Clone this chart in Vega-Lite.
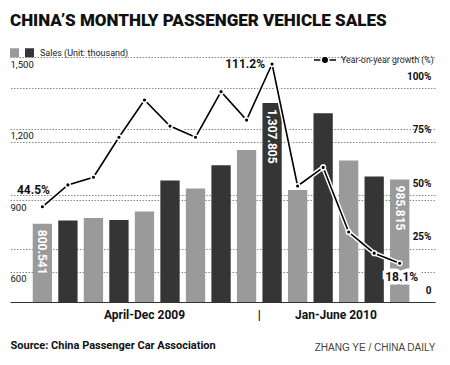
{
  "$schema": "https://vega.github.io/schema/vega-lite/v6.json",
  "width": 425,
  "height": 252,
  "autosize": {"type": "none"},
  "padding": {"left": 10, "top": 50, "right": 15, "bottom": 63},
  "background": "white",
  "title": {
    "text": "CHINA’S MONTHLY PASSENGER VEHICLE SALES",
    "anchor": "start",
    "frame": "group",
    "font": "Roboto",
    "fontSize": 17,
    "fontWeight": 900,
    "color": "#111111",
    "baseline": "alphabetic",
    "offset": 5
  },
  "config": {
    "view": {"stroke": null},
    "font": "Roboto"
  },
  "data": {
    "values": [
      {"month": "Apr 2009", "sales": 800.541, "growth": 44.5},
      {"month": "May 2009", "sales": 813.7, "growth": 54.7},
      {"month": "Jun 2009", "sales": 825.0, "growth": 58.3},
      {"month": "Jul 2009", "sales": 816.6, "growth": 77.0},
      {"month": "Aug 2009", "sales": 851.5, "growth": 94.4},
      {"month": "Sep 2009", "sales": 982.5, "growth": 82.2},
      {"month": "Oct 2009", "sales": 948.1, "growth": 77.0},
      {"month": "Nov 2009", "sales": 1046.3, "growth": 98.3},
      {"month": "Dec 2009", "sales": 1110.6, "growth": 85.0},
      {"month": "Jan 2010", "sales": 1307.805, "growth": 111.2},
      {"month": "Feb 2010", "sales": 942.6, "growth": 54.2},
      {"month": "Mar 2010", "sales": 1264.7, "growth": 62.9},
      {"month": "Apr 2010", "sales": 1065.7, "growth": 32.7},
      {"month": "May 2010", "sales": 998.5, "growth": 22.8},
      {"month": "Jun 2010", "sales": 985.815, "growth": 18.1}
    ]
  },
  "encoding": {
    "x": {
      "field": "month",
      "type": "nominal",
      "sort": null,
      "scale": {
        "domain": ["Apr 2009", "May 2009", "Jun 2009", "Jul 2009", "Aug 2009", "Sep 2009", "Oct 2009", "Nov 2009", "Dec 2009", "Jan 2010", "Feb 2010", "Mar 2010", "Apr 2010", "May 2010", "Jun 2010"],
        "paddingInner": 0.244,
        "paddingOuter": 0.948,
        "align": 0.47
      },
      "axis": {
        "title": "Source: China Passenger Car Association",
        "titleAnchor": "start",
        "titleAlign": "left",
        "titleX": 0,
        "titleY": 46,
        "titleBaseline": "alphabetic",
        "titleFontSize": 11,
        "titleFontWeight": "bold",
        "titleColor": "#111111",
        "labelExpr": "datum.value == 'Aug 2009' ? 'April-Dec 2009' : datum.value == 'Dec 2009' ? '|' : datum.value == 'Mar 2010' ? 'Jan-June 2010' : ''",
        "labelOffset": {"condition": {"test": "datum.value == 'Dec 2009' || datum.value == 'Mar 2010'", "value": 12.76}, "value": 0},
        "labelAngle": 0,
        "labelFontSize": 12,
        "labelFontWeight": "bold",
        "labelColor": "#111111",
        "labelPadding": 7,
        "labelBaseline": "top",
        "labelOverlap": false,
        "ticks": false,
        "tickSize": 0,
        "grid": false,
        "domainColor": "#333333",
        "domainWidth": 1
      }
    }
  },
  "layer": [
    {
      "encoding": {
        "y": {
          "field": "sales",
          "type": "quantitative",
          "scale": {"domain": [472, 1530], "zero": false, "nice": false},
          "axis": {
            "orient": "left",
            "title": null,
            "values": [600, 900, 1200, 1500],
            "format": ",.0f",
            "domain": false,
            "ticks": false,
            "tickSize": 0,
            "labelAlign": "left",
            "labelBaseline": "top",
            "labelPadding": 0,
            "labelOffset": 2,
            "labelFontSize": 9.5,
            "labelColor": "#111111",
            "labelFlush": false,
            "labelOverlap": false,
            "grid": true,
            "gridDash": [1.5, 1.5],
            "gridColor": "#888888",
            "gridWidth": 1
          }
        }
      },
      "layer": [
        {
          "mark": {"type": "bar", "clip": true},
          "encoding": {
            "color": {
              "field": "month",
              "type": "nominal",
              "scale": {
                "domain": ["Apr 2009", "May 2009", "Jun 2009", "Jul 2009", "Aug 2009", "Sep 2009", "Oct 2009", "Nov 2009", "Dec 2009", "Jan 2010", "Feb 2010", "Mar 2010", "Apr 2010", "May 2010", "Jun 2010"],
                "range": ["#9a9a9a", "#353535", "#9a9a9a", "#353535", "#9a9a9a", "#353535", "#9a9a9a", "#353535", "#9a9a9a", "#353535", "#9a9a9a", "#353535", "#9a9a9a", "#353535", "#9a9a9a"]
              },
              "legend": {
                "orient": "none",
                "legendX": 0,
                "legendY": -2,
                "direction": "horizontal",
                "title": null,
                "values": ["Apr 2009", "May 2009"],
                "labelExpr": "datum.value == 'May 2009' ? 'Sales (Unit: thousand)' : ''",
                "symbolType": "square",
                "symbolSize": 81,
                "symbolStrokeWidth": 0,
                "labelOffset": 6,
                "columnPadding": -2,
                "labelFontSize": 9,
                "labelColor": "#222222",
                "padding": 0
              }
            }
          }
        },
        {
          "transform": [{"filter": {"field": "month", "oneOf": ["Apr 2009", "Jan 2010", "Jun 2010"]}}],
          "mark": {"type": "text", "angle": 90, "align": "left", "baseline": "middle", "dx": 6, "color": "white", "fontWeight": "bold", "fontSize": 12},
          "encoding": {
            "text": {"field": "sales", "type": "quantitative", "format": ",.3f"}
          }
        }
      ]
    },
    {
      "encoding": {
        "y": {
          "field": "growth",
          "type": "quantitative",
          "scale": {"domain": [0, 117.76], "zero": true, "nice": false},
          "axis": {
            "orient": "right",
            "values": [0, 25, 50, 75, 100],
            "labelExpr": "datum.value == 0 ? '0' : datum.value + '%'",
            "title": "ZHANG YE / CHINA DAILY",
            "titleAngle": 0,
            "titleAlign": "right",
            "titleX": 0,
            "titleY": 300,
            "titleBaseline": "alphabetic",
            "titleFont": "Liberation Sans",
            "titleFontSize": 10,
            "titleFontWeight": "normal",
            "titleColor": "#444444",
            "domain": false,
            "ticks": false,
            "tickSize": 0,
            "labelAlign": "right",
            "labelBaseline": "alphabetic",
            "labelPadding": -4,
            "labelOffset": -9,
            "labelFontSize": 10,
            "labelFontWeight": "bold",
            "labelColor": "#111111",
            "labelFlush": false,
            "labelOverlap": false,
            "grid": true,
            "gridDash": [1.5, 1.5],
            "gridColor": "#888888",
            "gridWidth": 1
          }
        }
      },
      "layer": [
        {
          "mark": {"type": "line", "color": "white", "strokeWidth": 4.5}
        },
        {
          "mark": {"type": "line", "strokeWidth": 1.6},
          "encoding": {
            "stroke": {
              "datum": "Year-on-year growth (%)",
              "scale": {"range": ["#000000"]},
              "legend": {
                "orient": "none",
                "legendX": 303,
                "legendY": -2,
                "title": null,
                "symbolType": "M-1,0H-0.42M0.42,0H1M-0.2,0A0.2,0.2,0,1,1,0.2,0A0.2,0.2,0,1,1,-0.2,0Z",
                "symbolSize": 484,
                "symbolStrokeWidth": 1.6,
                "symbolStrokeColor": "#000000",
                "symbolFillColor": "#000000",
                "labelOffset": 4,
                "labelFontSize": 8.8,
                "labelColor": "#222222",
                "padding": 0
              }
            }
          }
        },
        {
          "mark": {"type": "circle", "color": "#000000", "opacity": 1, "size": 22, "stroke": "white", "strokeWidth": 1.5}
        },
        {
          "transform": [{"filter": {"field": "month", "equal": "Apr 2009"}}],
          "mark": {"type": "text", "align": "center", "baseline": "middle", "dx": -9, "dy": -17, "fontSize": 12, "fontWeight": "bold", "color": "#111111", "text": {"expr": "format(datum.growth, '.1f') + '%'"}}
        },
        {
          "transform": [{"filter": {"field": "month", "equal": "Jan 2010"}}],
          "mark": {"type": "text", "align": "right", "baseline": "middle", "dx": -7, "dy": 0, "fontSize": 12, "fontWeight": "bold", "color": "#111111", "text": {"expr": "format(datum.growth, '.1f') + '%'"}}
        },
        {
          "transform": [{"filter": {"field": "month", "equal": "Jun 2010"}}],
          "mark": {"type": "text", "align": "center", "baseline": "middle", "dx": 2, "dy": 14, "fontSize": 12, "fontWeight": "bold", "color": "white", "stroke": "white", "strokeWidth": 7, "text": {"expr": "format(datum.growth, '.1f') + '%'"}}
        },
        {
          "transform": [{"filter": {"field": "month", "equal": "Jun 2010"}}],
          "mark": {"type": "text", "align": "center", "baseline": "middle", "dx": 2, "dy": 14, "fontSize": 12, "fontWeight": "bold", "color": "#111111", "text": {"expr": "format(datum.growth, '.1f') + '%'"}}
        }
      ]
    }
  ],
  "resolve": {"scale": {"y": "independent"}}
}
